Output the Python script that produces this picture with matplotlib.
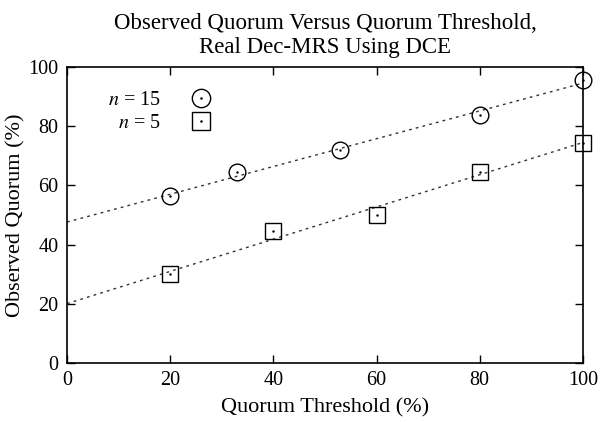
import numpy as np
import matplotlib
matplotlib.use('Agg')
import matplotlib.pyplot as plt
from matplotlib.legend_handler import HandlerTuple

# Data
thr_15 = [20, 33, 53, 80, 100]
obs_15 = [56.5, 64.5, 72.0, 83.8, 95.6]
thr_5 = [20, 40, 60, 80, 100]
obs_5 = [30.0, 44.6, 50.0, 64.5, 74.5]
ticks = [0, 20, 40, 60, 80, 100]

plt.rcParams['font.family'] = ['Liberation Serif', 'DejaVu Serif']
plt.rcParams['mathtext.fontset'] = 'stix'

fig = plt.figure(figsize=(6.04, 4.22), dpi=100)
ax = fig.add_axes([0.111, 0.140, 0.854, 0.701])

# least squares fit lines, as in the original
xs = np.array([0, 100])
for x, y in [(thr_15, obs_15), (thr_5, obs_5)]:
    k, b = np.polyfit(x, y, 1)
    ax.plot(xs, k * xs + b, color='#333333', lw=1, ls=(0, (2, 3)))

c1, = ax.plot(thr_15, obs_15, 'o', ms=12, mfc='none', mec='black', mew=1, clip_on=False)
c2, = ax.plot(thr_15, obs_15, '.', ms=1.5, color='black', clip_on=False)
s1, = ax.plot(thr_5, obs_5, 's', ms=12, mfc='none', mec='black', mew=1, clip_on=False)
s2, = ax.plot(thr_5, obs_5, '.', ms=1.5, color='black', clip_on=False)

ax.legend([(c1, c2), (s1, s2)], [r'$n$ = 15', r'$n$ = 5'],
          handler_map={tuple: HandlerTuple(ndivide=1, pad=0)},
          markerfirst=False, frameon=False, loc='upper left',
          bbox_to_anchor=(0.045, 0.98), fontsize=14.5, handlelength=1.0,
          handletextpad=1.5, labelspacing=0.2, markerscale=1.1)

ax.set_xlim(0, 100)
ax.set_ylim(0, 100)
ax.set_xticks(ticks)
ax.set_yticks(ticks)
ax.tick_params(direction='in', length=6, width=1, top=True, right=True,
               labelsize=14.5, pad=6)
for sp in ax.spines.values():
    sp.set_linewidth(1.2)

ax.set_xlabel('Quorum Threshold (%)', fontsize=16, labelpad=6)
ax.set_ylabel('Observed Quorum (%)', fontsize=16, labelpad=2)
ax.set_title('Observed Quorum Versus Quorum Threshold,\nReal Dec-MRS Using DCE',
             fontsize=16.5, linespacing=1.2, pad=10)

fig.savefig('out.png', dpi=100)
